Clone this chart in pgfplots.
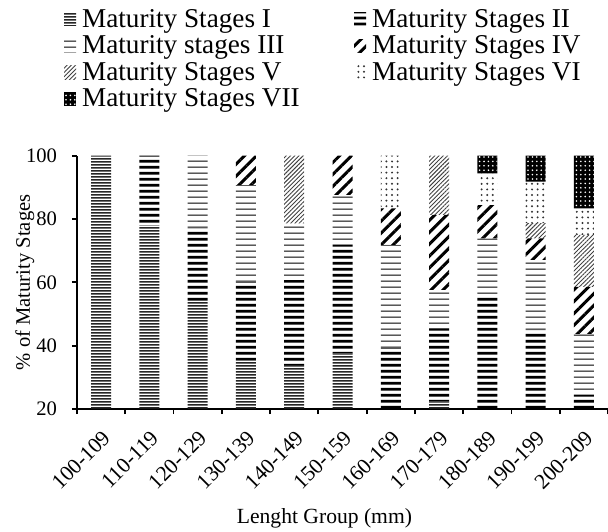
\documentclass[border=0pt]{standalone}
\usepackage{fontspec}
\setmainfont{Liberation Serif}
\usepackage{pgfplots}
\pgfplotsset{compat=1.18}
\usepackage{pgfplotstable}
\usetikzlibrary{patterns.meta}

\pgfplotstableread{
x I II III IV V VI VII
0 100 0 0 0 0 0 0
1 78 22 0 0 0 0 0
2 54 23 23 0 0 0 0
3 35.5 24.7 30.5 9.3 0 0 0
4 33.9 26.8 17.9 0 21.4 0 0
5 37.6 34.2 15.8 12.4 0 0 0
6 0 39.2 32.6 11.6 0 16.6 0
7 22.3 23.2 12.1 23.7 18.7 0 0
8 0 56 17.9 10.5 0 10 5.6
9 0 44.7 22.4 6.8 4.8 13.1 8.2
10 0 24.4 19.3 14.9 16.4 8.4 16.6
}\datatable

\pgfdeclarepattern{
  name=hlinesI, type=uncolored,
  bottom left={\pgfpointorigin}, top right={\pgfpoint{12pt}{1.5pt}},
  tile size={\pgfpoint{12pt}{1.5pt}},
  code={\pgfsetlinewidth{0.9pt}
    \pgfpathmoveto{\pgfpoint{-1pt}{0.75pt}}\pgfpathlineto{\pgfpoint{13pt}{0.75pt}}
    \pgfusepath{stroke}}
}
\pgfdeclarepattern{
  name=hlinesII, type=uncolored,
  bottom left={\pgfpointorigin}, top right={\pgfpoint{12pt}{2.9pt}},
  tile size={\pgfpoint{12pt}{2.9pt}},
  code={\pgfsetlinewidth{1.4pt}
    \pgfpathmoveto{\pgfpoint{-1pt}{1.45pt}}\pgfpathlineto{\pgfpoint{13pt}{1.45pt}}
    \pgfusepath{stroke}}
}
\pgfdeclarepattern{
  name=hlinesIII, type=uncolored,
  bottom left={\pgfpointorigin}, top right={\pgfpoint{12pt}{2.9pt}},
  tile size={\pgfpoint{12pt}{2.9pt}},
  code={\pgfsetlinewidth{0.55pt}
    \pgfpathmoveto{\pgfpoint{-1pt}{1.45pt}}\pgfpathlineto{\pgfpoint{13pt}{1.45pt}}
    \pgfusepath{stroke}}
}

\tikzset{
  stI/.style={draw=none, pattern=hlinesI, pattern color=black!85},
  stII/.style={draw=none, pattern=hlinesII, pattern color=black},
  stIII/.style={draw=none, pattern=hlinesIII, pattern color=black},
  stIV/.style={draw=none, pattern={Lines[angle=45, distance=4.2pt, line width=1.5pt]}, pattern color=black},
  stV/.style={draw=none, pattern={Lines[angle=45, distance=1.5pt, line width=0.45pt]}, pattern color=black!75},
  stVI/.style={draw=none, pattern={Dots[distance=2.8pt, radius=0.55pt]}, pattern color=black!80},
  stVII/.style={draw=none, preaction={fill=black}, pattern={Dots[distance=2.2pt, radius=0.45pt]}, pattern color=white},
}

\begin{document}
\begin{tikzpicture}
\useasboundingbox (-38.5pt,-61pt) rectangle (265.5pt,204.5pt);
\begin{axis}[
  scale only axis,
  width=265.5pt, height=126.65pt,
  ybar stacked, bar width=10pt,
  xmin=-0.5, xmax=10.5,
  ymin=20, ymax=100,
  axis x line*=bottom, axis y line*=left,
  axis line style={black, line width=0.9pt},
  xtick={0,...,10},
  xticklabels={100-109,110-119,120-129,130-139,140-149,150-159,160-169,170-179,180-189,190-199,200-209},
  minor xtick={-0.5,0.5,...,10.5},
  major x tick style={draw=none},
  minor x tick style={black, line width=0.9pt},
  ytick={20,40,...,100},
  y tick style={black, line width=0.9pt},
  tick align=outside,
  major tick length=2.5pt, minor tick length=2.5pt,
  /pgf/number format/assume math mode=true,
  yticklabel style={font=\fontsize{10.3}{12}\selectfont, xshift=-4pt},
  xticklabel style={font=\fontsize{10.8}{13}\selectfont, xshift=0pt, yshift=-7.4pt, rotate=45, anchor=north east, inner sep=0pt},
  ylabel={\% of Maturity Stages},
  ylabel style={font=\fontsize{10.3}{12}\selectfont, at={(axis description cs:-0.098,0.5)}, anchor=center},
  xlabel={Lenght Group (mm)},
  xlabel style={font=\fontsize{10.8}{12}\selectfont, at={(axis description cs:0.466,-0.43)}, anchor=center},
  legend columns=2,
  legend cell align=left,
  legend style={draw=none, fill=none, inner sep=0pt, row sep=0pt,
    at={(axis description cs:-0.025,1.5882)}, anchor=north west,
    font=\fontsize{13.6}{15}\selectfont,
    nodes={inner xsep=3pt, inner ysep=0pt, text height=10pt, text depth=3.3pt},
    /tikz/column 2/.style={column sep=24.2pt}},
  every axis plot/.append style={legend image code/.code={\fill[##1] (0pt,-2.7pt) rectangle (6pt,4pt);}},
]
\addplot+[stI] table[x=x, y=I] {\datatable};
\addplot+[stII] table[x=x, y=II] {\datatable};
\addplot+[stIII] table[x=x, y=III] {\datatable};
\addplot+[stIV] table[x=x, y=IV] {\datatable};
\addplot+[stV] table[x=x, y=V] {\datatable};
\addplot+[stVI] table[x=x, y=VI] {\datatable};
\addplot+[stVII] table[x=x, y=VII] {\datatable};
\legend{Maturity Stages I, Maturity Stages II, Maturity stages III, Maturity Stages IV, Maturity Stages V, Maturity Stages VI, Maturity Stages VII}
\end{axis}
\end{tikzpicture}
\end{document}
